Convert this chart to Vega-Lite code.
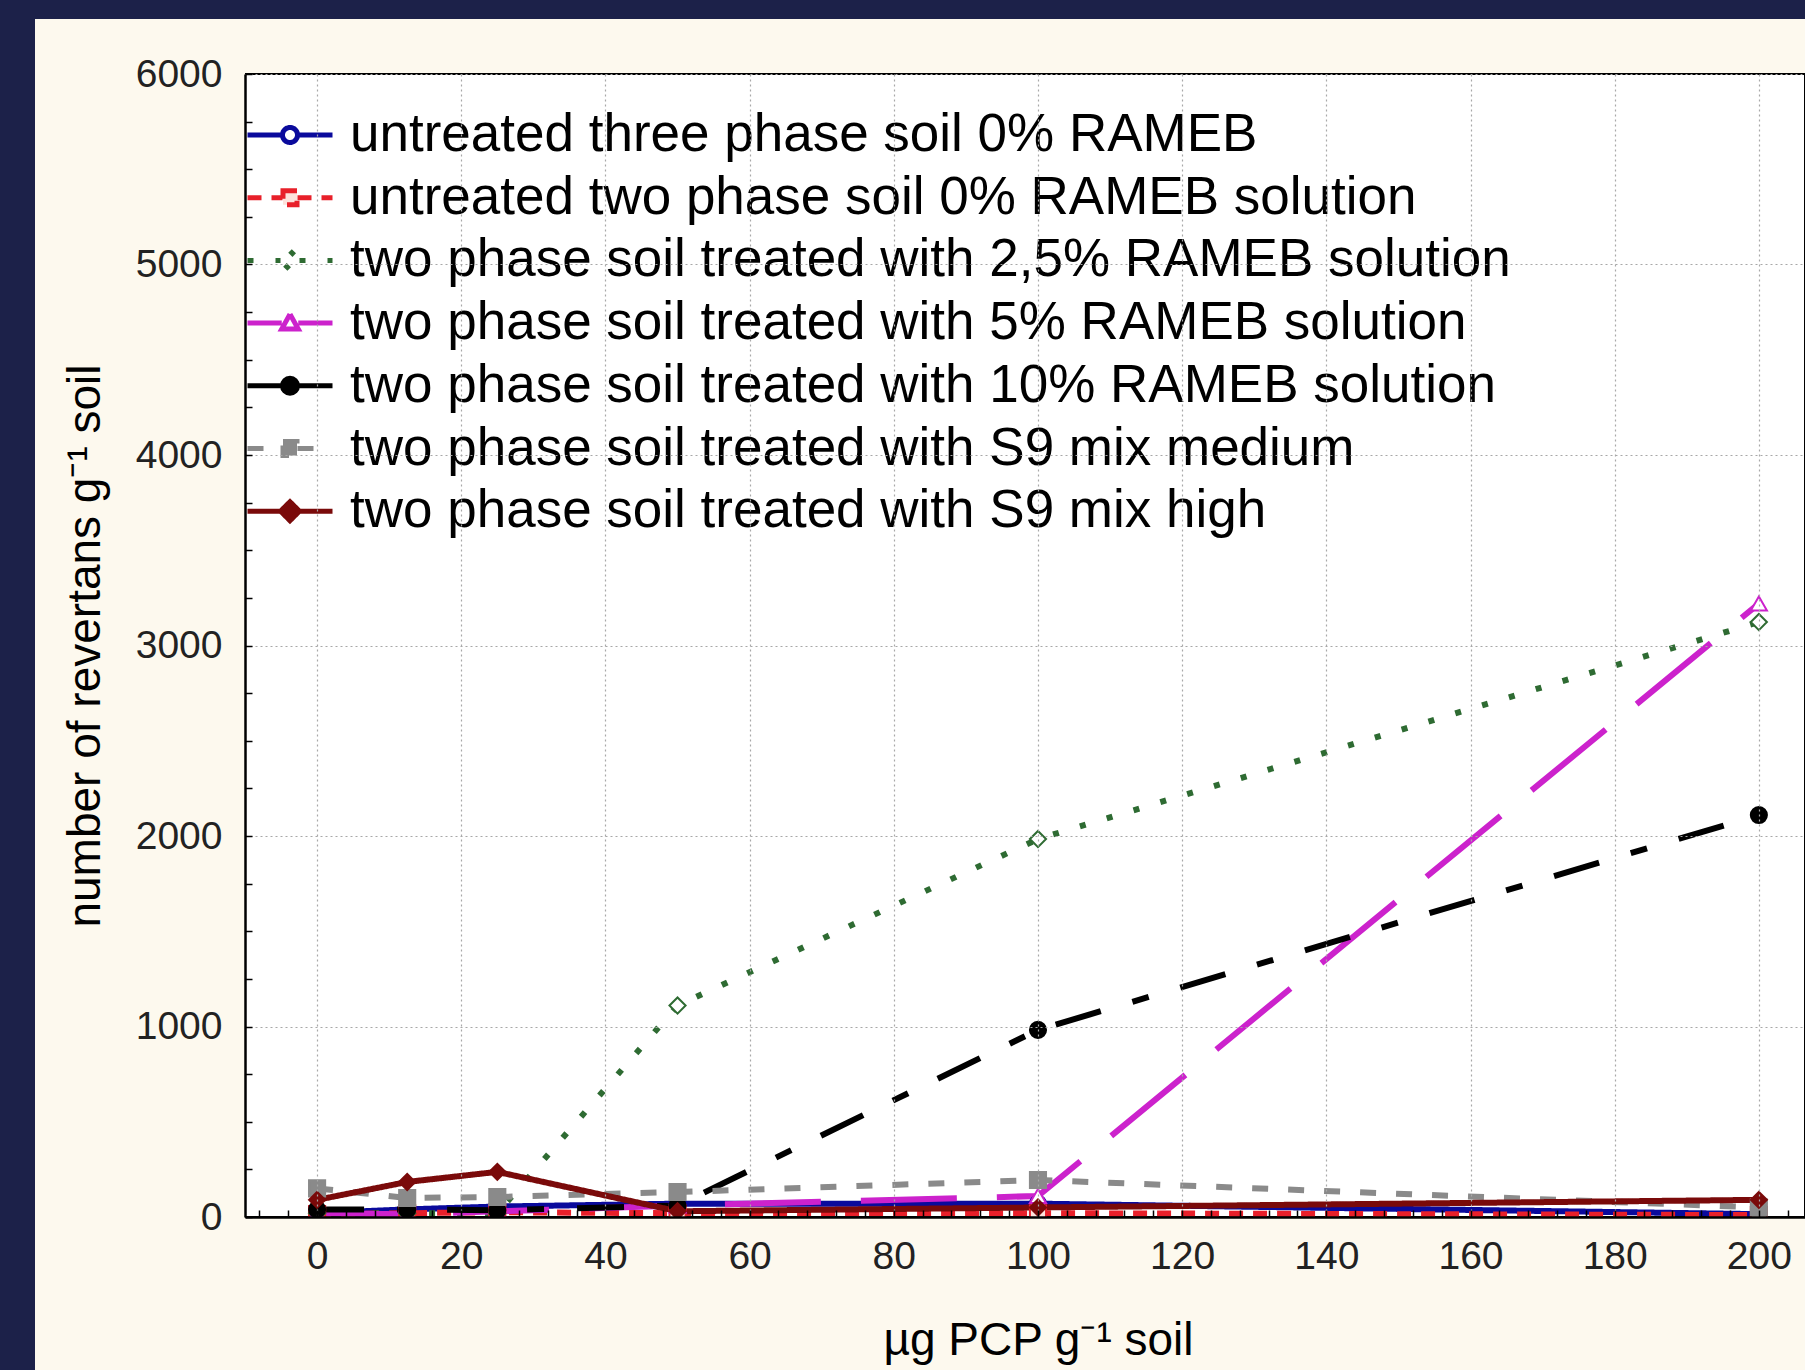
{
  "$schema": "https://vega.github.io/schema/vega-lite/v6.json",
  "width": 1560,
  "height": 1143,
  "autosize": {"type": "none"},
  "padding": {"left": 245, "top": 74, "right": 0, "bottom": 153},
  "background": "#1c2149",
  "config": {
    "font": "Liberation Sans",
    "view": {"fill": "white", "stroke": "black", "strokeWidth": 2}
  },
  "data": {
    "values": [
      {"series": "untreated three phase soil 0% RAMEB", "dose": 0, "revertants": 20},
      {"series": "untreated three phase soil 0% RAMEB", "dose": 12.5, "revertants": 40},
      {"series": "untreated three phase soil 0% RAMEB", "dose": 25, "revertants": 55},
      {"series": "untreated three phase soil 0% RAMEB", "dose": 50, "revertants": 70},
      {"series": "untreated three phase soil 0% RAMEB", "dose": 100, "revertants": 70},
      {"series": "untreated three phase soil 0% RAMEB", "dose": 200, "revertants": 15},
      {"series": "untreated two phase soil 0% RAMEB solution", "dose": 0, "revertants": 15},
      {"series": "untreated two phase soil 0% RAMEB solution", "dose": 12.5, "revertants": 20},
      {"series": "untreated two phase soil 0% RAMEB solution", "dose": 25, "revertants": 25},
      {"series": "untreated two phase soil 0% RAMEB solution", "dose": 50, "revertants": 20},
      {"series": "untreated two phase soil 0% RAMEB solution", "dose": 100, "revertants": 20},
      {"series": "untreated two phase soil 0% RAMEB solution", "dose": 200, "revertants": 10},
      {"series": "two phase soil treated with 2,5% RAMEB solution", "dose": 0, "revertants": 20},
      {"series": "two phase soil treated with 2,5% RAMEB solution", "dose": 12.5, "revertants": 20},
      {"series": "two phase soil treated with 2,5% RAMEB solution", "dose": 25, "revertants": 20},
      {"series": "two phase soil treated with 2,5% RAMEB solution", "dose": 50, "revertants": 1110},
      {"series": "two phase soil treated with 2,5% RAMEB solution", "dose": 100, "revertants": 1984},
      {"series": "two phase soil treated with 2,5% RAMEB solution", "dose": 200, "revertants": 3123},
      {"series": "two phase soil treated with 5% RAMEB solution", "dose": 0, "revertants": 20},
      {"series": "two phase soil treated with 5% RAMEB solution", "dose": 12.5, "revertants": 15},
      {"series": "two phase soil treated with 5% RAMEB solution", "dose": 25, "revertants": 30},
      {"series": "two phase soil treated with 5% RAMEB solution", "dose": 50, "revertants": 60},
      {"series": "two phase soil treated with 5% RAMEB solution", "dose": 100, "revertants": 110},
      {"series": "two phase soil treated with 5% RAMEB solution", "dose": 200, "revertants": 3220},
      {"series": "two phase soil treated with 10% RAMEB solution", "dose": 0, "revertants": 40},
      {"series": "two phase soil treated with 10% RAMEB solution", "dose": 12.5, "revertants": 40},
      {"series": "two phase soil treated with 10% RAMEB solution", "dose": 25, "revertants": 35},
      {"series": "two phase soil treated with 10% RAMEB solution", "dose": 50, "revertants": 60},
      {"series": "two phase soil treated with 10% RAMEB solution", "dose": 100, "revertants": 982},
      {"series": "two phase soil treated with 10% RAMEB solution", "dose": 200, "revertants": 2110},
      {"series": "two phase soil treated with S9 mix medium", "dose": 0, "revertants": 150},
      {"series": "two phase soil treated with S9 mix medium", "dose": 12.5, "revertants": 100},
      {"series": "two phase soil treated with S9 mix medium", "dose": 25, "revertants": 105},
      {"series": "two phase soil treated with S9 mix medium", "dose": 50, "revertants": 131},
      {"series": "two phase soil treated with S9 mix medium", "dose": 100, "revertants": 194},
      {"series": "two phase soil treated with S9 mix medium", "dose": 200, "revertants": 50},
      {"series": "two phase soil treated with S9 mix high", "dose": 0, "revertants": 90},
      {"series": "two phase soil treated with S9 mix high", "dose": 12.5, "revertants": 184},
      {"series": "two phase soil treated with S9 mix high", "dose": 25, "revertants": 237},
      {"series": "two phase soil treated with S9 mix high", "dose": 50, "revertants": 30},
      {"series": "two phase soil treated with S9 mix high", "dose": 100, "revertants": 50},
      {"series": "two phase soil treated with S9 mix high", "dose": 200, "revertants": 90}
    ]
  },
  "encoding": {
    "x": {
      "field": "dose",
      "type": "quantitative",
      "scale": {"domain": [-10, 206.4], "nice": false, "zero": false},
      "axis": {
        "zindex": 2,
        "values": [-8, -4, 0, 4, 8, 12, 16, 20, 24, 28, 32, 36, 40, 44, 48, 52, 56, 60, 64, 68, 72, 76, 80, 84, 88, 92, 96, 100, 104, 108, 112, 116, 120, 124, 128, 132, 136, 140, 144, 148, 152, 156, 160, 164, 168, 172, 176, 180, 184, 188, 192, 196, 200, 204],
        "labelExpr": "datum.value % 20 === 0 && datum.value >= 0 ? datum.label : ''",
        "labelFontSize": 39,
        "labelColor": "#222222",
        "labelPadding": 27,
        "labelFlush": false,
        "labelOverlap": false,
        "tickSize": -7,
        "tickColor": "black",
        "tickWidth": 1.5,
        "grid": true,
        "gridColor": "#a8a8a8",
        "gridDash": [2, 3],
        "gridWidth": 1.2,
        "gridOpacity": {"condition": {"test": "datum.value % 20 === 0 && datum.value >= 0", "value": 1}, "value": 0},
        "domainColor": "black",
        "domainWidth": 2.5,
        "title": "µg PCP g⁻¹ soil",
        "titleFontSize": 46,
        "titleFontWeight": "normal",
        "titleColor": "black",
        "titlePadding": 42,
        "titleX": 793
      }
    },
    "y": {
      "field": "revertants",
      "type": "quantitative",
      "scale": {"domain": [0, 6000], "nice": false},
      "axis": {
        "zindex": 2,
        "values": [0, 250, 500, 750, 1000, 1250, 1500, 1750, 2000, 2250, 2500, 2750, 3000, 3250, 3500, 3750, 4000, 4250, 4500, 4750, 5000, 5250, 5500, 5750, 6000],
        "format": "d",
        "labelExpr": "datum.value % 1000 === 0 ? datum.label : ''",
        "labelFontSize": 39,
        "labelColor": "#222222",
        "labelPadding": 30,
        "labelOverlap": false,
        "labelFlush": false,
        "tickSize": -7,
        "tickColor": "black",
        "tickWidth": 1.5,
        "grid": true,
        "gridColor": "#a8a8a8",
        "gridDash": [2, 3],
        "gridWidth": 1.2,
        "gridOpacity": {"condition": {"test": "datum.value % 1000 === 0", "value": 1}, "value": 0},
        "domainColor": "black",
        "domainWidth": 2.5,
        "title": "number of revertans g⁻¹ soil",
        "titleFontSize": 46,
        "titleFontWeight": "normal",
        "titleColor": "black",
        "titlePadding": 26
      }
    }
  },
  "resolve": {
    "scale": {"shape": "independent", "fill": "independent", "stroke": "independent"},
    "legend": {"shape": "independent", "fill": "independent", "stroke": "independent"}
  },
  "layer": [
    {
      "mark": {"type": "point", "size": 0, "strokeWidth": 0, "opacity": 1},
      "encoding": {
        "fill": {
          "field": "revertants",
          "type": "quantitative",
          "scale": {"domain": [0, 6000], "range": ["#fdf9ee", "#fdf9ee"]},
          "legend": {
            "orient": "none",
            "legendX": -210,
            "legendY": -55,
            "direction": "horizontal",
            "gradientLength": 210,
            "gradientThickness": 1351,
            "gradientStrokeWidth": 0,
            "gradientOpacity": 1,
            "padding": 0,
            "title": null,
            "labelOpacity": 0,
            "labelExpr": "''",
            "zindex": 1
          }
        },
        "stroke": {
          "field": "dose",
          "type": "quantitative",
          "scale": {"range": ["#fdf9ee", "#fdf9ee"]},
          "legend": {
            "orient": "none",
            "legendX": 0,
            "legendY": -55,
            "direction": "horizontal",
            "gradientLength": 1560,
            "gradientThickness": 54,
            "gradientStrokeWidth": 0,
            "gradientOpacity": 1,
            "padding": 0,
            "title": null,
            "labelOpacity": 0,
            "labelExpr": "''",
            "zindex": 1
          }
        }
      }
    },
    {
      "mark": {"type": "point", "size": 0, "strokeWidth": 0, "opacity": 1},
      "encoding": {
        "fill": {
          "field": "dose",
          "type": "quantitative",
          "scale": {"domain": [0, 200], "range": ["#fdf9ee", "#fdf9ee"]},
          "legend": {
            "orient": "none",
            "legendX": 0,
            "legendY": 1144,
            "direction": "horizontal",
            "gradientLength": 1560,
            "gradientThickness": 152,
            "gradientStrokeWidth": 0,
            "gradientOpacity": 1,
            "padding": 0,
            "title": null,
            "labelOpacity": 0,
            "labelExpr": "''",
            "zindex": 1
          }
        }
      }
    },
    {
      "mark": {"type": "line", "strokeWidth": 6},
      "encoding": {
        "color": {
          "field": "series",
          "type": "nominal",
          "scale": {
            "domain": ["untreated three phase soil 0% RAMEB", "untreated two phase soil 0% RAMEB solution", "two phase soil treated with 2,5% RAMEB solution", "two phase soil treated with 5% RAMEB solution", "two phase soil treated with 10% RAMEB solution", "two phase soil treated with S9 mix medium", "two phase soil treated with S9 mix high"],
            "range": ["#0a0a9c", "#e8202a", "#2e6b32", "#cc22cc", "#000000", "#8a8a8a", "#7a0a0a"]
          },
          "legend": {
            "orient": "none",
            "legendX": 17.5,
            "legendY": 33.5,
            "title": null,
            "padding": 0,
            "labelFontSize": 53,
            "labelColor": "black",
            "labelFont": "Liberation Sans",
            "labelLimit": 2000,
            "labelOffset": 32.5,
            "rowPadding": 7.7,
            "symbolSize": 2500,
            "symbolStrokeWidth": 5,
            "encode": {
              "symbols": {
                "update": {
                  "shape": {"signal": "['M-1.7,0H-0.3M0.3,0H1.7M0.3,0A0.3,0.3,0,1,1,-0.3,0A0.3,0.3,0,1,1,0.3,0Z','M-1.7,0H-0.3M0.3,0H1.7M-0.28,-0.28H0.28V0.28H-0.28Z','M-1.7,0H-0.38M0.38,0H1.7M0,-0.38L0.38,0L0,0.38L-0.38,0Z','M-1.7,0H-0.33M0.33,0H1.7M0,-0.36L0.33,0.24H-0.33Z','M-1.7,0H-0.3M0.3,0H1.7M0.3,0A0.3,0.3,0,1,1,-0.3,0A0.3,0.3,0,1,1,0.3,0Z','M-1.7,0H-0.3M0.3,0H1.7M-0.28,-0.28H0.28V0.28H-0.28Z','M-1.7,0H-0.38M0.38,0H1.7M0,-0.38L0.38,0L0,0.38L-0.38,0Z'][indexof(['untreated three phase soil 0% RAMEB','untreated two phase soil 0% RAMEB solution','two phase soil treated with 2,5% RAMEB solution','two phase soil treated with 5% RAMEB solution','two phase soil treated with 10% RAMEB solution','two phase soil treated with S9 mix medium','two phase soil treated with S9 mix high'], datum.value)]"},
                  "fill": {"signal": "['#ffffff','#fde2dc','#ffffff','#ffffff','#000000','#8a8a8a','#7a0a0a'][indexof(['untreated three phase soil 0% RAMEB','untreated two phase soil 0% RAMEB solution','two phase soil treated with 2,5% RAMEB solution','two phase soil treated with 5% RAMEB solution','two phase soil treated with 10% RAMEB solution','two phase soil treated with S9 mix medium','two phase soil treated with S9 mix high'], datum.value)]"},
                  "fillOpacity": {"value": 1}
                }
              }
            }
          }
        },
        "strokeDash": {
          "field": "series",
          "type": "nominal",
          "scale": {
            "domain": ["untreated three phase soil 0% RAMEB", "untreated two phase soil 0% RAMEB solution", "two phase soil treated with 2,5% RAMEB solution", "two phase soil treated with 5% RAMEB solution", "two phase soil treated with 10% RAMEB solution", "two phase soil treated with S9 mix medium", "two phase soil treated with S9 mix high"],
            "range": [[1, 0], [14, 10], [6, 22], [96, 40], [47, 33, 17, 33], [16, 20], [1, 0]]
          },
          "legend": {
            "orient": "none",
            "legendX": 17.5,
            "legendY": 33.5,
            "title": null,
            "padding": 0,
            "labelFontSize": 53,
            "labelColor": "black",
            "labelFont": "Liberation Sans",
            "labelLimit": 2000,
            "labelOffset": 32.5,
            "rowPadding": 7.7,
            "symbolSize": 2500,
            "symbolStrokeWidth": 5
          }
        }
      }
    },
    {
      "mark": {"type": "point", "filled": true, "size": 260, "strokeWidth": 2, "opacity": 1},
      "encoding": {
        "shape": {
          "field": "series",
          "type": "nominal",
          "scale": {
            "domain": ["untreated three phase soil 0% RAMEB", "untreated two phase soil 0% RAMEB solution", "two phase soil treated with 2,5% RAMEB solution", "two phase soil treated with 5% RAMEB solution", "two phase soil treated with 10% RAMEB solution", "two phase soil treated with S9 mix medium", "two phase soil treated with S9 mix high"],
            "range": ["circle", "square", "diamond", "triangle-up", "circle", "square", "diamond"]
          },
          "legend": null
        },
        "stroke": {
          "field": "series",
          "type": "nominal",
          "scale": {
            "domain": ["untreated three phase soil 0% RAMEB", "untreated two phase soil 0% RAMEB solution", "two phase soil treated with 2,5% RAMEB solution", "two phase soil treated with 5% RAMEB solution", "two phase soil treated with 10% RAMEB solution", "two phase soil treated with S9 mix medium", "two phase soil treated with S9 mix high"],
            "range": ["#0a0a9c", "#e8202a", "#2e6b32", "#cc22cc", "#000000", "#8a8a8a", "#7a0a0a"]
          },
          "legend": null
        },
        "fill": {
          "field": "series",
          "type": "nominal",
          "scale": {
            "domain": ["untreated three phase soil 0% RAMEB", "untreated two phase soil 0% RAMEB solution", "two phase soil treated with 2,5% RAMEB solution", "two phase soil treated with 5% RAMEB solution", "two phase soil treated with 10% RAMEB solution", "two phase soil treated with S9 mix medium", "two phase soil treated with S9 mix high"],
            "range": ["#ffffff", "#fde2dc", "#ffffff", "#ffffff", "#000000", "#8a8a8a", "#7a0a0a"]
          },
          "legend": null
        }
      }
    }
  ]
}
